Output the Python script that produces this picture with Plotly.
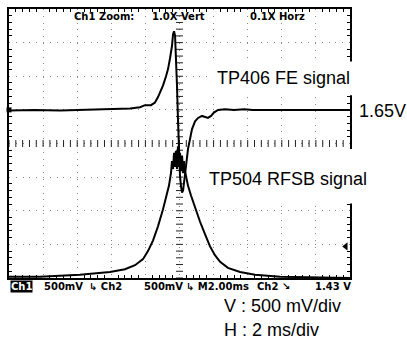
import numpy as np
import plotly.graph_objects as go

# ---------------- data (time in ms, voltage on screen in V, 500 mV/div) ----------------
fe_time = [-10.0, -8.5, -7.0, -5.8, -4.66, -3.9, -3.49, -2.90, -2.32, -2.02, -1.67, -1.44, -1.26,
           -0.97, -0.79, -0.67, -0.56, -0.44, -0.38, -0.32, -0.26, -0.21, -0.15, -0.09, -0.06,
           -0.03, 0.03, 0.09, 0.15, 0.21, 0.26, 0.38, 0.50, 0.62, 0.73, 0.91, 1.09, 1.32, 1.50,
           1.67, 1.85, 2.02, 2.26, 2.67, 3.2, 3.8, 4.3, 4.72, 5.3, 5.9, 6.5, 7.07, 7.6, 8.2,
           8.8, 9.4, 10.0]
fe_volt = [0.49, 0.50, 0.49, 0.50, 0.50, 0.51, 0.51, 0.52, 0.54, 0.57, 0.57, 0.61, 0.69,
           0.86, 1.00, 1.11, 1.26, 1.45, 1.62, 1.67, 1.60, 1.36, 0.88, 0.36, 0.04,
           -0.26, -0.48, -0.64, -0.73, -0.70, -0.58, -0.30, -0.08, 0.07, 0.21, 0.33, 0.38, 0.41, 0.39,
           0.38, 0.41, 0.46, 0.50, 0.51, 0.50, 0.51, 0.50, 0.50, 0.51, 0.50, 0.51, 0.51, 0.50, 0.51,
           0.50, 0.51, 0.50]

rf_time = [-10.0, -8.18, -5.84, -4.08, -3.20, -2.61, -2.14, -1.85, -1.55, -1.26, -0.97, -0.79,
           -0.62, -0.50, -0.44, -0.38, -0.32, -0.26, -0.21, -0.15, -0.09, -0.03, 0.03, 0.09,
           0.15, 0.21, 0.26, 0.32, 0.38, 0.50, 0.67, 0.91, 1.20, 1.50, 1.79, 2.08, 2.38, 2.84,
           3.55, 4.43, 5.90, 10.0]
rf_volt = [-1.98, -1.98, -1.95, -1.91, -1.87, -1.81, -1.72, -1.60, -1.44, -1.23, -0.98, -0.82,
           -0.63, -0.44, -0.26, -0.38, -0.14, -0.35, -0.11, -0.38, -0.04, -0.35, -0.14, -0.41,
           -0.18, -0.44, -0.26, -0.41, -0.48, -0.63, -0.77, -0.95, -1.16, -1.35, -1.53, -1.66,
           -1.76, -1.85, -1.91, -1.95, -1.98, -2.00]

trigger_level = -1.53
fe_ground = 0.5

top_labels = ["Ch1 Zoom:", "1.0X Vert", "0.1X Horz"]
bottom_labels = ["500mV", "\u21b3 Ch2", "500mV", "\u21b3 M2.00ms", "Ch2 \u2198", "1.43 V"]

# ---------------- layout geometry ----------------
W, H = 407, 344
L, R, T, B = 9, 57, 7, 66
PW, PH = W - L - R, H - T - B


def px(x):
    return (x - L) / PW


def py(y):
    return (H - B - y) / PH


fig = go.Figure()

# center-line tick marks
cx = np.arange(-10, 10.001, 0.4)
fig.add_trace(go.Scatter(x=cx, y=np.zeros_like(cx), mode="markers",
                         marker=dict(symbol="line-ns", size=5, line=dict(width=1, color="#222")),
                         hoverinfo="skip", showlegend=False))
cy = np.arange(-2, 2.001, 0.1)
fig.add_trace(go.Scatter(x=np.zeros_like(cy), y=cy, mode="markers",
                         marker=dict(symbol="line-ew", size=5, line=dict(width=1, color="#222")),
                         hoverinfo="skip", showlegend=False))

fig.add_trace(go.Scatter(x=fe_time, y=fe_volt, mode="lines",
                         line=dict(color="black", width=2), showlegend=False))
fig.add_trace(go.Scatter(x=rf_time, y=rf_volt, mode="lines",
                         line=dict(color="black", width=2), showlegend=False))

# markers on the edges
fig.add_trace(go.Scatter(x=[9.75], y=[trigger_level], mode="markers",
                         marker=dict(symbol="triangle-left", size=7, color="black"),
                         showlegend=False, cliponaxis=False))
fig.add_trace(go.Scatter(x=[-10.0], y=[fe_ground], mode="markers",
                         marker=dict(symbol="square", size=5, color="black"),
                         showlegend=False, cliponaxis=False))

axis_common = dict(showline=True, linecolor="black", linewidth=1.5, mirror="ticks",
                   ticks="inside", ticklen=0, showticklabels=False, zeroline=False,
                   showgrid=True, gridcolor="#888", gridwidth=1, griddash="1px,5.8px")
fig.update_xaxes(range=[-10, 10], dtick=2, tick0=-10,
                 minor=dict(dtick=0.4, ticks="inside", ticklen=3, tickcolor="black", showgrid=False),
                 **axis_common)
fig.update_yaxes(range=[-2, 2], dtick=0.5, tick0=-2,
                 minor=dict(dtick=0.1, ticks="inside", ticklen=3, tickcolor="black", showgrid=False),
                 **axis_common)

anns = []
lab_font = dict(family="Liberation Sans, Arial, sans-serif", size=18, color="black")
# white patches behind labels
fig.add_shape(type="rect", xref="paper", yref="paper", x0=px(212), x1=px(358), y0=py(94), y1=py(60),
              fillcolor="white", line=dict(width=0), layer="above")
fig.add_shape(type="rect", xref="paper", yref="paper", x0=px(204), x1=px(378), y0=py(203), y1=py(148),
              fillcolor="white", line=dict(width=0), layer="above")

anns.append(dict(text="TP406 FE signal", x=px(215), y=py(77), xanchor="left", yanchor="middle", font=lab_font))
anns.append(dict(text="1.65V", x=px(357), y=py(110), xanchor="left", yanchor="middle", font=lab_font))
anns.append(dict(text="TP504 RFSB signal", x=px(207), y=py(178), xanchor="left", yanchor="middle", font=lab_font))
anns.append(dict(text="V : 500 mV/div", x=px(222), y=py(306), xanchor="left", yanchor="middle", font=lab_font))
anns.append(dict(text="H : 2 ms/div", x=px(222), y=py(330), xanchor="left", yanchor="middle", font=lab_font))

scope_font = dict(family="DejaVu Sans, sans-serif", size=10, color="black", weight="bold")
for t, x in zip(top_labels, [72, 150, 248]):
    anns.append(dict(text=t, x=px(x), y=py(15), xanchor="left", yanchor="middle", font=scope_font))

bfont = dict(family="DejaVu Sans, sans-serif", size=10, color="black", weight="bold")
anns.append(dict(text="Ch1", x=px(10), y=py(287), xanchor="left", yanchor="middle",
                 font=dict(family="DejaVu Sans, sans-serif", size=10, color="white", weight="bold"),
                 bgcolor="black", borderpad=0))
for t, x in zip(bottom_labels, [42, 87, 142, 184, 255, 313]):
    anns.append(dict(text=t, x=px(x), y=py(287), xanchor="left", yanchor="middle", font=bfont))

for a in anns:
    a.update(xref="paper", yref="paper", showarrow=False)

fig.update_layout(width=W, height=H, margin=dict(l=L, r=R, t=T, b=B),
                  paper_bgcolor="white", plot_bgcolor="white", annotations=anns,
                  showlegend=False)

fig.write_html("out.html", config={"displayModeBar": False},
               post_script="document.body.style.margin='0';document.body.style.overflow='hidden';")
